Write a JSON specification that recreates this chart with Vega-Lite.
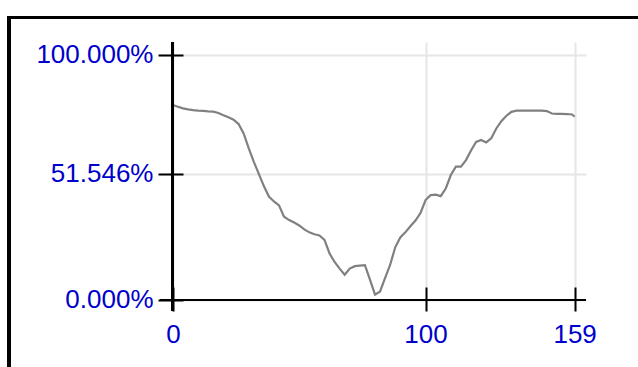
{
  "$schema": "https://vega.github.io/schema/vega-lite/v6.json",
  "width": 426,
  "height": 269,
  "autosize": {"type": "none"},
  "padding": {"left": 160, "top": 42, "right": 52, "bottom": 56},
  "background": "white",
  "config": {
    "view": {"stroke": null},
    "axis": {
      "labelFont": "Liberation Sans",
      "labelFontSize": 26,
      "labelColor": "#0000CC",
      "grid": true,
      "gridColor": "#E6E6E6",
      "gridWidth": 2,
      "tickColor": "black",
      "tickWidth": 2,
      "domain": false,
      "title": null
    }
  },
  "data": {
    "values": [
      {"x": 0, "p": 0.796}, {"x": 2, "p": 0.789}, {"x": 4, "p": 0.782}, {"x": 6, "p": 0.778},
      {"x": 8, "p": 0.775}, {"x": 10, "p": 0.773}, {"x": 12, "p": 0.772}, {"x": 14, "p": 0.770},
      {"x": 16, "p": 0.769}, {"x": 18, "p": 0.763}, {"x": 20, "p": 0.754}, {"x": 22, "p": 0.746},
      {"x": 24, "p": 0.736}, {"x": 26, "p": 0.718}, {"x": 28, "p": 0.680}, {"x": 30, "p": 0.620},
      {"x": 32, "p": 0.565}, {"x": 34, "p": 0.515}, {"x": 36, "p": 0.465}, {"x": 38, "p": 0.422},
      {"x": 40, "p": 0.402}, {"x": 42, "p": 0.386}, {"x": 44, "p": 0.340}, {"x": 46, "p": 0.326},
      {"x": 48, "p": 0.316}, {"x": 50, "p": 0.304}, {"x": 52, "p": 0.288}, {"x": 54, "p": 0.276},
      {"x": 56, "p": 0.268}, {"x": 58, "p": 0.263}, {"x": 60, "p": 0.245}, {"x": 62, "p": 0.190},
      {"x": 64, "p": 0.155}, {"x": 66, "p": 0.128}, {"x": 68, "p": 0.103}, {"x": 70, "p": 0.128},
      {"x": 72, "p": 0.138}, {"x": 74, "p": 0.140}, {"x": 76, "p": 0.142}, {"x": 78, "p": 0.083},
      {"x": 80, "p": 0.022}, {"x": 82, "p": 0.035}, {"x": 84, "p": 0.090}, {"x": 86, "p": 0.144},
      {"x": 88, "p": 0.215}, {"x": 90, "p": 0.255}, {"x": 92, "p": 0.276}, {"x": 94, "p": 0.301},
      {"x": 96, "p": 0.324}, {"x": 98, "p": 0.355}, {"x": 100, "p": 0.408}, {"x": 102, "p": 0.428},
      {"x": 104, "p": 0.430}, {"x": 106, "p": 0.424}, {"x": 108, "p": 0.455}, {"x": 110, "p": 0.510},
      {"x": 112, "p": 0.544}, {"x": 114, "p": 0.544}, {"x": 116, "p": 0.571}, {"x": 118, "p": 0.610},
      {"x": 120, "p": 0.645}, {"x": 122, "p": 0.653}, {"x": 124, "p": 0.643}, {"x": 126, "p": 0.660},
      {"x": 128, "p": 0.700}, {"x": 130, "p": 0.730}, {"x": 132, "p": 0.752}, {"x": 134, "p": 0.768},
      {"x": 136, "p": 0.773}, {"x": 138, "p": 0.773}, {"x": 140, "p": 0.773}, {"x": 142, "p": 0.773},
      {"x": 144, "p": 0.773}, {"x": 146, "p": 0.773}, {"x": 148, "p": 0.771}, {"x": 150, "p": 0.761},
      {"x": 152, "p": 0.760}, {"x": 154, "p": 0.760}, {"x": 156, "p": 0.759}, {"x": 158, "p": 0.757},
      {"x": 159, "p": 0.748}
    ]
  },
  "layer": [
    {
      "mark": {"type": "rect", "filled": false, "stroke": "black", "strokeWidth": 2.5},
      "encoding": {
        "x": {"datum": -64.86, "type": "quantitative"},
        "x2": {"datum": 250},
        "y": {"datum": 1.153, "type": "quantitative"},
        "y2": {"datum": -0.5}
      }
    },
    {
      "mark": {"type": "line", "color": "#808080", "strokeWidth": 2.2},
      "encoding": {
        "x": {
          "field": "x",
          "type": "quantitative",
          "scale": {"domain": [-5.1, 163.5], "nice": false, "zero": false},
          "axis": {
            "values": [0, 100, 159],
            "grid": true,
            "offset": -24,
            "tickSize": 24,
            "labelPadding": 10,
            "labelFlush": false,
            "labelOverlap": false,
            "format": "d"
          }
        },
        "y": {
          "field": "p",
          "type": "quantitative",
          "scale": {"domain": [-0.045, 1.053], "nice": false, "zero": false},
          "axis": {
            "values": [0, 0.51546, 1],
            "grid": true,
            "offset": -23,
            "tickSize": 25,
            "labelPadding": 5,
            "labelFlush": false,
            "labelOverlap": false,
            "format": ".3%"
          }
        }
      }
    },
    {
      "mark": {"type": "rule", "color": "black", "strokeWidth": 2},
      "encoding": {"x": {"datum": 0, "type": "quantitative"}}
    },
    {
      "mark": {"type": "rule", "color": "black", "strokeWidth": 2},
      "encoding": {"y": {"datum": 0, "type": "quantitative"}}
    }
  ]
}
